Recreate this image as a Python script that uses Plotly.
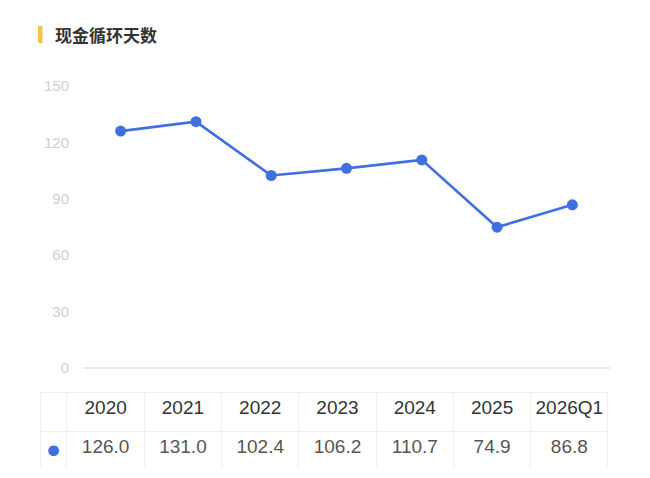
import plotly.graph_objects as go

title = "现金循环天数"
categories = ["2020", "2021", "2022", "2023", "2024", "2025", "2026Q1"]
values = [126.0, 131.0, 102.4, 106.2, 110.7, 74.9, 86.8]
y_ticks = [0, 30, 60, 90, 120, 150]

W, H = 650, 478
BLUE = "#3f6fe0"
FONT = "Liberation Sans, Arial, sans-serif"

def px_x(x):
    return x / W

def px_y(y):
    return 1 - y / H

fig = go.Figure()

fig.add_trace(go.Scatter(
    x=categories, y=values, mode="lines+markers",
    line=dict(color=BLUE, width=2.6),
    marker=dict(color=BLUE, size=11),
    hoverinfo="x+y", showlegend=False,
    xaxis="x", yaxis="y",
))

fig.add_trace(go.Table(
    domain=dict(x=[px_x(40), px_x(608)], y=[px_y(469), px_y(392)]),
    columnwidth=[27] + [77.3] * len(categories),
    header=dict(
        values=[""] + categories,
        align="center",
        height=39,
        fill_color="white",
        line=dict(color="#f0f0f0", width=1),
        font=dict(family=FONT, size=19, color="#333333"),
    ),
    cells=dict(
        values=[["●"]] + [[f"{v:.1f}"] for v in values],
        align="center",
        height=38,
        fill_color="white",
        line=dict(color="#f0f0f0", width=1),
        font=dict(family=FONT, size=[25] + [19] * len(values),
                  color=[BLUE] + ["#555555"] * len(values)),
    ),
))

fig.update_layout(
    template="none",
    width=W, height=H,
    margin=dict(l=0, r=0, t=0, b=0, pad=0),
    paper_bgcolor="white", plot_bgcolor="white",
    xaxis=dict(
        domain=[px_x(83), px_x(610)], automargin=False,
        type="category", range=[-0.5, len(categories) - 0.5],
        showticklabels=False, showgrid=False, zeroline=False,
        showline=False, ticks="",
    ),
    yaxis=dict(
        domain=[px_y(368), px_y(86)], automargin=False,
        range=[0, 150], tickvals=y_ticks,
        showgrid=False, zeroline=True, zerolinecolor="#e8e8e8", zerolinewidth=1.5,
        tickfont=dict(family=FONT, size=15, color="#cfcfcf"),
        ticks="", ticklabelstandoff=13,
    ),
    shapes=[dict(
        type="rect", xref="paper", yref="paper",
        x0=px_x(38), x1=px_x(42.5), y0=px_y(43), y1=px_y(26),
        fillcolor="#f4c24d", line=dict(width=0),
    )],
    annotations=[dict(
        text=f"<b>{title}</b>", xref="paper", yref="paper",
        x=px_x(53), y=px_y(34.5), xanchor="left", yanchor="middle",
        showarrow=False,
        font=dict(family="Noto Sans CJK SC", size=17, color="#333333"),
    )],
)

fig.write_html("out.html", config={"displayModeBar": False},
               post_script="document.body.style.margin='0';")
